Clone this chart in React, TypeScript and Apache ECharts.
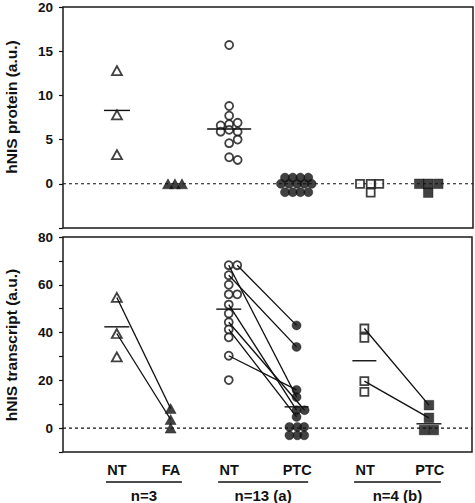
import React, { useEffect, useRef } from "react";
import * as echarts from "echarts";

// ---- group layout (abstract x positions of the six columns) ----
const groupNames = ["NT", "FA", "NT", "PTC", "NT", "PTC"];
const groupPos = [1, 2, 3.08, 4.34, 5.6, 6.8];
const pairLabels = ["n=3", "n=13 (a)", "n=4 (b)"];
const X_MAX = 7.6;
const SLOT = 0.15;

// ---- hNIS protein (a.u.) ----
const proteinNT1 = [12.8, 7.8, 3.3];
const proteinFA = [0, 0, 0];
const proteinNT2 = [15.7, 8.8, 7.7, 6.6, 6.75, 6.9, 5.9, 6.1, 5.9, 5.0, 4.6, 3.0, 2.7];
const proteinPTC = [0.7, 0.7, 0.7, 0.7, 0, 0, 0, 0, 0, -0.95, -0.95, -0.95, -0.95];
const proteinNT3 = [0, 0, 0, -1];
const proteinPTC3 = [0, 0, 0, -1];
const proteinMeans = [8.3, null, 6.2, null, null, null];

// ---- hNIS transcript (a.u.) ----
const transcriptNT1 = [54.7, 39.6, 29.8];
const transcriptFA = [8.2, 3.6, 0];
const transcriptNT2 = [68.2, 68.2, 64, 60, 56, 56, 51.7, 48, 44.3, 41.3, 38, 30.3, 20.1];
const transcriptPTC = [43, 34, 16, 13, 7.5, 7.5, 4.7, 0.5, 0.5, 0.5, -3, -3, -3];
const transcriptNT3 = [41.7, 37.8, 19.7, 15.2];
const transcriptPTC3 = [9.6, 4.3, -0.8, -0.8];
const transcriptMeans = [42.4, null, 49.8, 8.9, 28.2, 1.8];

// paired samples: [index in NT column, index in tumour column]
const pairsFA = [[0, 0], [1, 1]];
const pairsPTC = [[0, 3], [1, 0], [2, 1], [6, 4], [8, 5], [9, 6], [11, 2]];
const pairsPTC3 = [[0, 0], [2, 1]];

// beeswarm side offsets (in marker slots)
const jitProteinFA = [-0.36, 0.5, 1.37];
const jitProteinNT2 = [0, 0, 0, -1.05, 0, 1.05, -1.05, 0, 1.05, 1.05, 0, 0, 1.05];
const jitProteinPTC = [-1.5, -0.54, 0.4, 1.38, -2, -1, 0, 0.9, 1.8, -1.5, -0.54, 0.4, 1.38];
const jitProteinNT3 = [-0.63, 0.69, 1.75, 0.69];
const jitProteinPTC3 = [-1.31, -0.2, 1.04, -0.2];
const jitTranscriptNT2 = [0, 1.05, 0, 0, 0, 1.05, 0, 0, 0, 0, 0, 0, 0];
const jitTranscriptPTC = [0, 0, 0, 0, 0, 1, 0, -0.88, 0.1, 0.95, -0.88, 0.1, 0.95];
const jitTranscriptPTC3 = [0, 0, -0.6, 0.6];

const FONT = "'Liberation Sans', Arial, Helvetica, sans-serif";
const INK = "#111";

const GRID_LEFT = 63;
const GRID_W = 410;

function pts(g: number, vals: number[], jit?: number[]) {
  return vals.map((v, i) => [groupPos[g] + (jit ? jit[i] : 0) * SLOT, v]);
}

type Sym = { symbol: string; size: any; filled: boolean };
const TRI_O: Sym = { symbol: "triangle", size: [10, 9], filled: false };
const TRI_F: Sym = { symbol: "triangle", size: [11, 10], filled: true };
const CIR_O: Sym = { symbol: "circle", size: 8, filled: false };
const CIR_F: Sym = { symbol: "circle", size: 9, filled: true };
const SQ_O: Sym = { symbol: "rect", size: 8, filled: false };
const SQ_F: Sym = { symbol: "rect", size: 9.6, filled: true };

function scatter(panel: number, data: number[][], s: Sym) {
  return {
    type: "scatter",
    xAxisIndex: panel,
    yAxisIndex: panel,
    data,
    symbol: s.symbol,
    symbolSize: s.size,
    z: s.filled ? 5 : 3,
    silent: true,
    itemStyle: s.filled
      ? { color: INK, borderColor: INK, borderWidth: 0.5 }
      : { color: "#fff", borderColor: INK, borderWidth: 1.8 },
  };
}

function pairLines(panel: number, a: number[][], b: number[][], pairs: number[][]) {
  return pairs.map(([i, j]) => ({
    type: "line",
    xAxisIndex: panel,
    yAxisIndex: panel,
    data: [a[i], b[j]],
    symbol: "none",
    silent: true,
    z: 4,
    lineStyle: { color: INK, width: 1.35 },
  }));
}

function zeroLine(panel: number) {
  return {
    type: "line",
    xAxisIndex: panel,
    yAxisIndex: panel,
    data: [[0, 0], [X_MAX, 0]],
    symbol: "none",
    silent: true,
    z: 1,
    lineStyle: { color: INK, width: 1.1, type: [3, 3] },
  };
}

function meanSeries(panel: number, means: (number | null)[], halfWidths: number[]) {
  const data: number[][] = [];
  const hw: number[] = [];
  means.forEach((m, g) => {
    if (m !== null) {
      data.push([groupPos[g], m]);
      hw.push(halfWidths[g]);
    }
  });
  return {
    type: "custom",
    xAxisIndex: panel,
    yAxisIndex: panel,
    data,
    silent: true,
    z: 6,
    renderItem: (params: any, api: any) => {
      const c = api.coord([api.value(0), api.value(1)]);
      const w = hw[params.dataIndex];
      return {
        type: "line",
        shape: { x1: c[0] - w, y1: c[1], x2: c[0] + w, y2: c[1] },
        style: { stroke: INK, lineWidth: 1.4 },
      };
    },
  };
}

function yAxis(panel: number, min: number, max: number, interval: number, fmt: (v: number) => string) {
  return {
    type: "value",
    gridIndex: panel,
    min,
    max,
    interval,
    axisLine: { show: false },
    splitLine: { show: false },
    axisTick: { show: true, inside: false, length: 4, lineStyle: { color: INK, width: 1.2 } },
    axisLabel: {
      formatter: fmt,
      fontFamily: FONT,
      fontWeight: "bold",
      fontSize: 13.5,
      color: INK,
      margin: 10,
    },
  };
}

function xAxis(panel: number) {
  return { type: "value", gridIndex: panel, min: 0, max: X_MAX, show: false };
}

export default function App() {
  const ref = useRef<HTMLDivElement>(null);

  useEffect(() => {
    if (!ref.current) return;
    const chart = echarts.init(ref.current, null, { renderer: "svg" });

    // protein panel points
    const pNT1 = pts(0, proteinNT1);
    const pFA = pts(1, proteinFA, jitProteinFA);
    const pNT2 = pts(2, proteinNT2, jitProteinNT2);
    const pPTC = pts(3, proteinPTC, jitProteinPTC);
    const pNT3 = pts(4, proteinNT3, jitProteinNT3);
    const pPTC3 = pts(5, proteinPTC3, jitProteinPTC3);
    // transcript panel points
    const tNT1 = pts(0, transcriptNT1);
    const tFA = pts(1, transcriptFA);
    const tNT2 = pts(2, transcriptNT2, jitTranscriptNT2);
    const tPTC = pts(3, transcriptPTC, jitTranscriptPTC);
    const tNT3 = pts(4, transcriptNT3);
    const tPTC3 = pts(5, transcriptPTC3, jitTranscriptPTC3);

    const px = (p: number) => GRID_LEFT + (p / X_MAX) * GRID_W;

    const textStyle = (text: string, size: number) => ({
      text,
      font: `bold ${size}px ${FONT}`,
      fill: INK,
      textAlign: "center",
      textVerticalAlign: "middle",
      align: "center",
      verticalAlign: "middle",
    });

    const graphic: any[] = [
      { type: "text", x: 11, y: 107, rotation: Math.PI / 2, style: textStyle("hNIS protein (a.u.)", 15.5) },
      { type: "text", x: 11, y: 345, rotation: Math.PI / 2, style: textStyle("hNIS transcript (a.u.)", 15.5) },
    ];
    groupNames.forEach((n, g) => {
      graphic.push({ type: "text", x: px(groupPos[g]), y: 470, style: textStyle(n, 14.5) });
    });
    pairLabels.forEach((lab, k) => {
      const a = px(groupPos[2 * k]);
      const b = px(groupPos[2 * k + 1]);
      graphic.push({
        type: "line",
        shape: { x1: a - 11, y1: 482, x2: b + 11, y2: 482 },
        style: { stroke: INK, lineWidth: 1.5 },
      });
      graphic.push({ type: "text", x: (a + b) / 2, y: 495, style: textStyle(lab, 15) });
    });

    const option: any = {
      animation: false,
      backgroundColor: "#fff",
      grid: [
        { left: GRID_LEFT, top: 7, width: GRID_W, height: 221, show: true, borderColor: "#1a1a1a", borderWidth: 1.5 },
        { left: GRID_LEFT, top: 237, width: GRID_W - 1, height: 215, show: true, borderColor: "#1a1a1a", borderWidth: 1.5 },
      ],
      xAxis: [xAxis(0), xAxis(1)],
      yAxis: [
        yAxis(0, -5, 20, 5, (v: number) => (v < 0 ? "" : String(v))),
        yAxis(1, -10, 80, 10, (v: number) => (v >= 0 && v % 20 === 0 ? String(v) : "")),
      ],
      graphic,
      series: [
        zeroLine(0),
        zeroLine(1),
        // protein
        scatter(0, pNT1, TRI_O),
        scatter(0, pFA, TRI_F),
        scatter(0, pNT2, CIR_O),
        scatter(0, pPTC, CIR_F),
        scatter(0, pNT3, SQ_O),
        scatter(0, pPTC3, SQ_F),
        meanSeries(0, proteinMeans, [13, 12.5, 22, 12.5, 12.5, 12.5]),
        // transcript
        scatter(1, tNT1, TRI_O),
        scatter(1, tFA, TRI_F),
        scatter(1, tNT2, CIR_O),
        scatter(1, tPTC, CIR_F),
        scatter(1, tNT3, SQ_O),
        scatter(1, tPTC3, SQ_F),
        ...pairLines(1, tNT1, tFA, pairsFA),
        ...pairLines(1, tNT2, tPTC, pairsPTC),
        ...pairLines(1, tNT3, tPTC3, pairsPTC3),
        meanSeries(1, transcriptMeans, [12.5, 12.5, 12.5, 12, 12, 12.5]),
      ],
    };
    chart.setOption(option);
    return () => chart.dispose();
  }, []);

  return (
    <div
      ref={ref}
      style={{ position: "absolute", left: 0, top: 0, width: 475, height: 503, background: "#fff" }}
    />
  );
}
